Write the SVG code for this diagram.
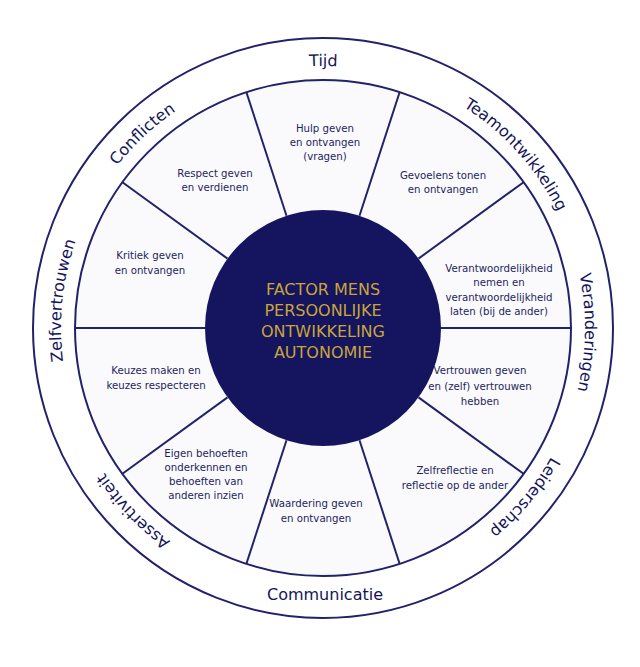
<svg xmlns="http://www.w3.org/2000/svg" width="640" height="667" viewBox="0 0 640 667">
<style>
.ln{stroke:#22226a;stroke-width:2;fill:none}
.t{font-family:"DejaVu Sans",Verdana,sans-serif;font-size:10.2px;fill:#1e1e5e;text-anchor:middle}
.o{font-family:"DejaVu Sans",Verdana,sans-serif;font-size:16px;fill:#14145a}
.c{font-family:"DejaVu Sans",Verdana,sans-serif;font-size:16px;fill:#c9a53a;text-anchor:middle}
</style>
<defs>
<path id="pA" d="M585,328 A262,262 0 1 1 61,328 A262,262 0 1 1 585,328"/>
<path id="pB" d="M61,328 A262,262 0 1 1 585,328 A262,262 0 1 1 61,328"/>
</defs>
<rect width="640" height="667" fill="#fff"/>
<g id="outer"><circle cx="323" cy="328" r="290" fill="#fff" class="ln"/></g>
<g id="ring"><circle cx="323" cy="328" r="248" fill="#fafafc" stroke="#22226a" stroke-width="2"/></g>
<g id="connectors" class="ln">
<line x1="441" y1="328" x2="571" y2="328"/>
<line x1="418.5" y1="397.4" x2="523.6" y2="473.8"/>
<line x1="359.5" y1="440.2" x2="399.6" y2="563.8"/>
<line x1="286.5" y1="440.2" x2="246.4" y2="563.8"/>
<line x1="227.5" y1="397.4" x2="122.4" y2="473.8"/>
<line x1="205" y1="328" x2="75" y2="328"/>
<line x1="227.5" y1="258.6" x2="122.4" y2="182.2"/>
<line x1="286.5" y1="215.8" x2="246.4" y2="92.2"/>
<line x1="359.5" y1="215.8" x2="399.6" y2="92.2"/>
<line x1="418.5" y1="258.6" x2="523.6" y2="182.2"/>
</g>
<g id="center"><circle cx="323" cy="328" r="118" fill="#14145f"/>
<text class="c" x="323" y="295">FACTOR MENS</text>
<text class="c" x="323" y="316">PERSOONLIJKE</text>
<text class="c" x="323" y="337">ONTWIKKELING</text>
<text class="c" x="323" y="358">AUTONOMIE</text></g>
<g id="seg-hulp"><text class="t" x="325" y="132">Hulp geven</text><text class="t" x="325" y="146">en ontvangen</text><text class="t" x="325" y="160">(vragen)</text></g>
<g id="seg-gevoelens"><text class="t" x="443" y="179">Gevoelens tonen</text><text class="t" x="443" y="193">en ontvangen</text></g>
<g id="seg-verantw"><text class="t" x="499" y="272">Verantwoordelijkheid</text><text class="t" x="499" y="286">nemen en</text><text class="t" x="499" y="301">verantwoordelijkheid</text><text class="t" x="499" y="315">laten (bij de ander)</text></g>
<g id="seg-vertrouwen"><text class="t" x="480" y="374">Vertrouwen geven</text><text class="t" x="480" y="390">en (zelf) vertrouwen</text><text class="t" x="480" y="405">hebben</text></g>
<g id="seg-zelfrefl"><text class="t" x="455" y="474">Zelfreflectie en</text><text class="t" x="455" y="489">reflectie op de ander</text></g>
<g id="seg-waardering"><text class="t" x="316" y="507">Waardering geven</text><text class="t" x="316" y="522">en ontvangen</text></g>
<g id="seg-eigen"><text class="t" x="206" y="457">Eigen behoeften</text><text class="t" x="206" y="471">onderkennen en</text><text class="t" x="206" y="485">behoeften van</text><text class="t" x="206" y="499">anderen inzien</text></g>
<g id="seg-keuzes"><text class="t" x="156" y="374">Keuzes maken en</text><text class="t" x="156" y="389">keuzes respecteren</text></g>
<g id="seg-kritiek"><text class="t" x="150" y="259">Kritiek geven</text><text class="t" x="150" y="274">en ontvangen</text></g>
<g id="seg-respect"><text class="t" x="215" y="177">Respect geven</text><text class="t" x="215" y="191">en verdienen</text></g>
<g id="outer-labels">
<text class="o"><textPath href="#pA" startOffset="1234.7" text-anchor="middle">Tijd</textPath></text>
<text class="o"><textPath href="#pA" startOffset="1454" text-anchor="middle">Teamontwikkeling</textPath></text>
<text class="o"><textPath href="#pB" startOffset="827.6" text-anchor="middle">Veranderingen</textPath></text>
<text class="o"><textPath href="#pA" startOffset="183" text-anchor="middle">Leiderschap</textPath></text>
<text class="o"><textPath href="#pA" startOffset="622" text-anchor="middle">Assertiviteit</textPath></text>
<text class="o"><textPath href="#pA" startOffset="850.5" text-anchor="middle">Zelfvertrouwen</textPath></text>
<text class="o"><textPath href="#pA" startOffset="1038" text-anchor="middle">Conflicten</textPath></text>
<text class="o" x="325" y="600" text-anchor="middle">Communicatie</text>
</g>
</svg>
